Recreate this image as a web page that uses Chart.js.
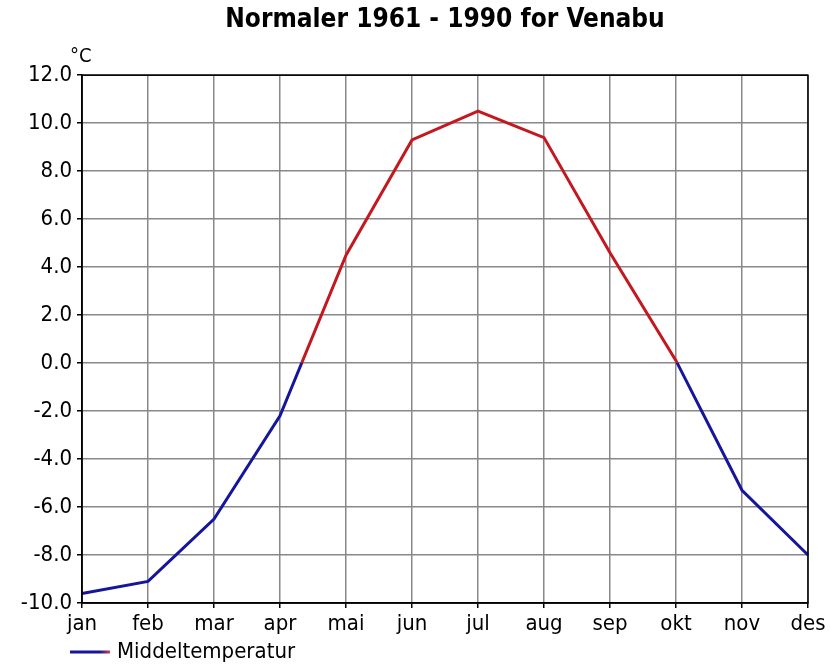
<!DOCTYPE html>
<html>
<head>
<meta charset="utf-8">
<script src="https://cdn.jsdelivr.net/npm/chart.js@4"></script>
<style>
  html, body { margin: 0; padding: 0; background: #fff; }
  #wrap { width: 830px; height: 666px; }
</style>
</head>
<body>
<div id="wrap"><canvas id="normalChart" width="830" height="666"></canvas></div>
<script>
// Data
const months = ["jan", "feb", "mar", "apr", "mai", "jun", "jul", "aug", "sep", "okt", "nov", "des"];
const middeltemp = [-9.6, -9.1, -6.5, -2.2, 4.5, 9.3, 10.5, 9.4, 4.6, 0.1, -5.3, -8.0];
const seriesName = "Middeltemperatur";
const unitLabel = "°C";
const yMin = -10;
const yMax = 12;
const yStep = 2;

const RED = "#c41820";
const BLUE = "#16169c";
const FONT = "'DejaVu Sans Condensed', 'DejaVu Sans', sans-serif";

// rødt over 0, blått under 0
function lineColor(context) {
    const chart = context.chart;
    const area = chart.chartArea;
    if (!area) return BLUE;
    const y0 = chart.scales.y.getPixelForValue(0);
    const g = chart.ctx.createLinearGradient(0, area.top, 0, area.bottom);
    const stop = Math.min(1, Math.max(0, (y0 - area.top) / (area.bottom - area.top)));
    g.addColorStop(0, RED);
    g.addColorStop(stop, RED);
    g.addColorStop(stop, BLUE);
    g.addColorStop(1, BLUE);
    return g;
}

// ramme, °C og egen forklaring nederst til venstre
const extras = {
    id: "extras",
    afterDraw(chart) {
        const { ctx, chartArea } = chart;
        ctx.save();
        ctx.strokeStyle = "#000";
        ctx.lineWidth = 1.5;
        ctx.strokeRect(chartArea.left, chartArea.top, chartArea.right - chartArea.left, chartArea.bottom - chartArea.top);

        ctx.fillStyle = "#000";
        ctx.font = "20px " + FONT;
        ctx.textAlign = "left";
        ctx.textBaseline = "middle";
        ctx.fillText(unitLabel, 70, 57);

        // forklaring
        const ly = 652;
        const sw = ctx.createLinearGradient(70, 0, 110, 0);
        sw.addColorStop(0, BLUE);
        sw.addColorStop(0.75, BLUE);
        sw.addColorStop(1, "#d04040");
        ctx.strokeStyle = sw;
        ctx.lineWidth = 3;
        ctx.beginPath();
        ctx.moveTo(70, ly);
        ctx.lineTo(110, ly);
        ctx.stroke();
        ctx.font = "22px " + FONT;
        ctx.fillText(seriesName, 117, ly);
        ctx.restore();
    },
};

const ctx = document.getElementById("normalChart").getContext("2d");
new Chart(ctx, {
    type: "line",
    data: {
        labels: months,
        datasets: [
            {
                label: seriesName,
                data: middeltemp,
                borderColor: lineColor,
                borderWidth: 3,
                pointRadius: 0,
                tension: 0,
                fill: false,
            },
        ],
    },
    options: {
        responsive: false,
        animation: false,
        layout: { padding: { left: 0, right: 22, top: 0, bottom: 23 } },
        plugins: {
            title: {
                display: true,
                fullSize: false,
                text: "Normaler 1961 - 1990 for Venabu",
                color: "#000",
                font: { family: FONT, size: 26, weight: "bold" },
                padding: { top: 5, bottom: 39 },
            },
            legend: { display: false },
            tooltip: { enabled: false },
        },
        scales: {
            x: {
                offset: false,
                grid: { color: "#888", lineWidth: 1.5, tickLength: 5, tickColor: "#000" },
                border: { color: "#000", width: 1.5 },
                ticks: { color: "#000", font: { family: FONT, size: 22 }, padding: 3, maxRotation: 0, autoSkip: false },
                afterFit: function (scale) { scale.height = 40; },
            },
            y: {
                min: yMin,
                max: yMax,
                grid: { color: "#888", lineWidth: 1.5, tickLength: 5, tickColor: "#000" },
                border: { color: "#000", width: 1.5 },
                ticks: {
                    stepSize: yStep,
                    color: "#000",
                    font: { family: FONT, size: 22 },
                    padding: 5,
                    callback: function (v) { return v.toFixed(1); },
                },
                afterFit: function (scale) { scale.width = 82; },
            },
        },
    },
    plugins: [extras],
});
</script>
</body>
</html>
